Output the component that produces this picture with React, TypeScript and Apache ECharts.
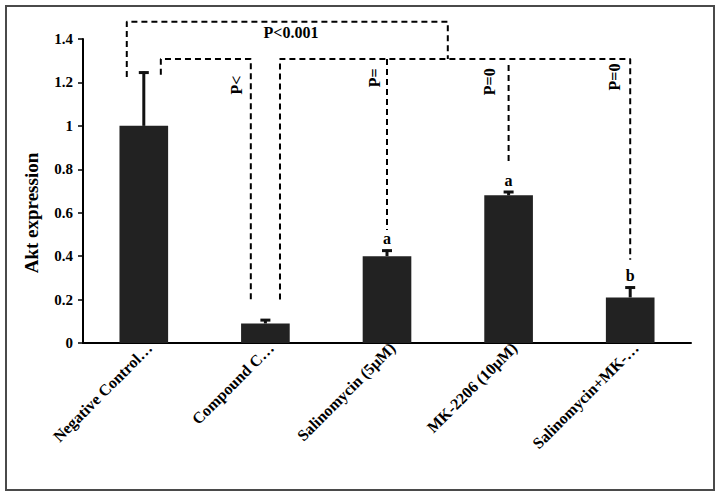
import React, { useEffect, useRef } from 'react';
import * as echarts from 'echarts';

const categories = ['Negative Control…', 'Compound C…', 'Salinomycin (5μM)', 'MK-2206 (10μM)', 'Salinomycin+MK-…'];
const means = [1.0, 0.09, 0.40, 0.68, 0.21];
const errors = [0.25, 0.02, 0.03, 0.02, 0.05];
const letters = ['', '', 'a', 'a', 'b'];

// significance brackets: x in category-index units, y in axis units
const brackets = [
  [[-0.14, 1.225], [-0.14, 1.48], [2.5, 1.48], [2.5, 1.308]],
  [[0.14, 1.235], [0.14, 1.308], [0.88, 1.308], [0.88, 0.2]],
  [[1.12, 0.2], [1.12, 1.308], [4, 1.308], [4, 0.383]],
  [[2, 1.308], [2, 0.52]],
  [[3, 1.28], [3, 0.83]],
];
const pLabels = ['P<0.001', 'P<', 'P=', 'P=0', 'P=0'];
const pLabelX = [1.21, 0.766, 1.9, 2.847, 3.867];
const pLabelY = [1.428, 1.188, 1.221, 1.203, 1.225];
const pLabelRotated = [false, true, true, true, true];

const FONT = "'Liberation Serif', 'Times New Roman', serif";

export default function App() {
  const ref = useRef<HTMLDivElement>(null);
  useEffect(() => {
    if (!ref.current) return;
    const chart = echarts.init(ref.current, undefined, { renderer: 'svg' });
    const option: any = {
      animation: false,
      backgroundColor: '#ffffff',
      grid: { left: 83, right: 29, top: 39, bottom: 153, containLabel: false },
      graphic: [
        {
          type: 'rect',
          shape: { x: 6, y: 6, width: 708, height: 484 },
          style: { fill: 'none', stroke: '#4a4a4a', lineWidth: 2 },
          z: 100,
        },
      ],
      xAxis: [
        {
          type: 'category',
          data: categories,
          axisLine: { show: true, onZero: false, lineStyle: { color: '#000', width: 2 } },
          axisTick: { show: false },
          splitLine: { show: false },
          axisLabel: {
            interval: 0,
            rotate: 45,
            color: '#000',
            fontFamily: FONT,
            fontWeight: 'bold',
            fontSize: 16,
            margin: 8,
            padding: [17, -8, 0, 0],
          },
        },
        { type: 'value', min: -0.5, max: 4.5, show: false },
      ],
      yAxis: {
        type: 'value',
        min: 0,
        max: 1.4,
        interval: 0.2,
        name: 'Akt expression',
        nameLocation: 'middle',
        nameGap: 42,
        nameTextStyle: {
          color: '#000',
          fontFamily: FONT,
          fontWeight: 'bold',
          fontSize: 19,
          padding: [0, 44, 0, 0],
        },
        axisLine: { show: true, onZero: false, lineStyle: { color: '#000', width: 2 } },
        axisTick: { show: true, length: 5, lineStyle: { color: '#000', width: 1.5 } },
        splitLine: { show: false },
        axisLabel: { color: '#000', fontFamily: FONT, fontWeight: 'bold', fontSize: 15, margin: 10 },
      },
      series: [
        {
          type: 'bar',
          data: means,
          barWidth: '40%',
          itemStyle: { color: '#222222' },
          silent: true,
        },
        {
          type: 'custom',
          xAxisIndex: 0,
          yAxisIndex: 0,
          silent: true,
          z: 5,
          data: means.map((m, i) => [i, m, m + errors[i]]),
          encode: { x: 0, y: [1, 2] },
          renderItem: (params: any, api: any) => {
            const i = params.dataIndex;
            const low = api.coord([i, api.value(1)]);
            const high = api.coord([i, api.value(2)]);
            const children: any[] = [];
            if (letters[i]) {
              children.push({
                type: 'text',
                x: high[0],
                y: high[1] - 3,
                style: {
                  text: letters[i],
                  fill: '#000',
                  font: `bold 16px ${FONT}`,
                  align: 'center',
                  verticalAlign: 'bottom',
                },
              });
            }
            children.push(
              {
                type: 'line',
                shape: { x1: low[0], y1: low[1], x2: high[0], y2: high[1] },
                style: { stroke: '#111', lineWidth: 3 },
              },
              {
                type: 'line',
                shape: { x1: high[0] - 5, y1: high[1] + 1, x2: high[0] + 5, y2: high[1] + 1 },
                style: { stroke: '#111', lineWidth: 3 },
              }
            );
            return { type: 'group', children };
          },
        },
        ...brackets.map((b) => ({
          type: 'line',
          xAxisIndex: 1,
          yAxisIndex: 0,
          data: b,
          symbol: 'none',
          clip: false,
          silent: true,
          z: 4,
          lineStyle: { color: '#000', width: 2, type: [6, 4] },
        })),
        {
          type: 'custom',
          xAxisIndex: 1,
          yAxisIndex: 0,
          silent: true,
          z: 6,
          data: pLabels.map((_, i) => [pLabelX[i], pLabelY[i]]),
          renderItem: (params: any, api: any) => {
            const i = params.dataIndex;
            const p = api.coord([api.value(0), api.value(1)]);
            return {
              type: 'text',
              x: p[0],
              y: p[1],
              rotation: pLabelRotated[i] ? Math.PI / 2 : 0,
              style: {
                text: pLabels[i],
                fill: '#000',
                font: `bold 16px ${FONT}`,
                align: 'center',
                verticalAlign: 'middle',
              },
            };
          },
        },
      ],
    };
    chart.setOption(option);
    return () => chart.dispose();
  }, []);
  return (
    <div
      ref={ref}
      style={{ position: 'fixed', left: 0, top: 0, width: 720, height: 496, background: '#fff' }}
    />
  );
}
